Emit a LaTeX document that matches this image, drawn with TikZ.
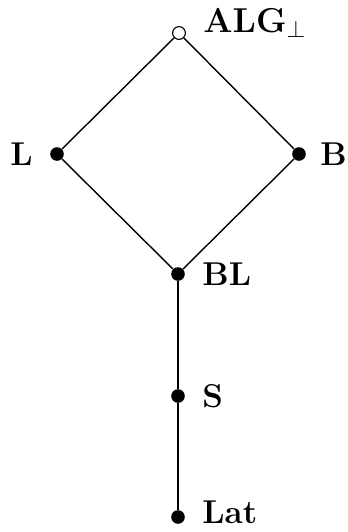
\documentclass[tikz,border=0pt]{standalone}
\begin{document}
\begin{tikzpicture}[x=0.5pt,y=-0.5pt,
  elem/.style={circle,fill=black,inner sep=0pt,minimum size=6.8pt},
  topelem/.style={circle,draw=black,fill=white,line width=0.55pt,inner sep=0pt,minimum size=6.4pt},
  lbl/.style={font=\fontsize{16.5}{19}\selectfont\bfseries,inner sep=0pt},
  edge/.style={line width=0.7pt}]
\useasboundingbox (0,0) rectangle (348,532);
% lattice elements
\node[topelem] (alg) at (179,33) {};
\node[elem] (l) at (57,154) {};
\node[elem] (b) at (299,154) {};
\node[elem] (bl) at (178,274) {};
\node[elem] (s) at (178,396) {};
\node[elem] (lat) at (178,517) {};
% order relations
\draw[edge] (alg) -- (l);
\draw[edge] (alg) -- (b);
\draw[edge] (l) -- (bl);
\draw[edge] (b) -- (bl);
\draw[edge] (bl) -- (s);
\draw[edge] (s) -- (lat);
% names
\node[lbl,anchor=base west] (algname) at (203,32) {$\mathbf{ALG}_\perp$};
\node[lbl,anchor=east] (lname) at (33,154) {L};
\node[lbl,anchor=west] (bname) at (320,154) {B};
\node[lbl,anchor=west] (blname) at (202,274) {BL};
\node[lbl,anchor=west] (sname) at (202,396) {S};
\node[lbl,anchor=west] (latname) at (202,512) {Lat};
\end{tikzpicture}
\end{document}
